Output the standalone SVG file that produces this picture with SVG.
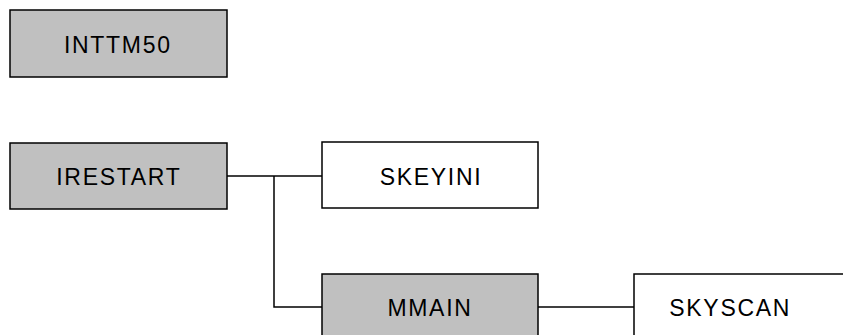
<svg xmlns="http://www.w3.org/2000/svg" width="843" height="335" viewBox="0 0 843 335">
<style>
.box{stroke:#000;stroke-width:1.5}
.g{fill:#c0c0c0}
.w{fill:#fff}
.t{font-family:"Liberation Sans",Arial,sans-serif;font-size:23px;letter-spacing:1.7px;text-anchor:middle;fill:#000}
.c{fill:none;stroke:#000;stroke-width:1.5}
</style>
<rect width="843" height="335" fill="#fff"/>
<g id="connectors">
<path class="c" d="M227,176 H322"/>
<path class="c" d="M274,176 V307 H322"/>
<path class="c" d="M538,307 H634"/>
</g>
<g id="INTTM50">
<rect class="box g" x="10" y="10" width="217" height="67"/>
<text class="t" x="117.8" y="53.2">INTTM50</text>
</g>
<g id="IRESTART">
<rect class="box g" x="10" y="143" width="217" height="66"/>
<text class="t" x="118.9" y="184.7">IRESTART</text>
</g>
<g id="SKEYINI">
<rect class="box w" x="322" y="142" width="216" height="66"/>
<text class="t" x="431" y="185">SKEYINI</text>
</g>
<g id="MMAIN">
<rect class="box g" x="322" y="274" width="216" height="70"/>
<text class="t" x="430" y="315.7">MMAIN</text>
</g>
<g id="SKYSCAN">
<rect class="box w" x="634" y="274" width="216" height="70"/>
<text class="t" x="730.2" y="316">SKYSCAN</text>
</g>
</svg>
